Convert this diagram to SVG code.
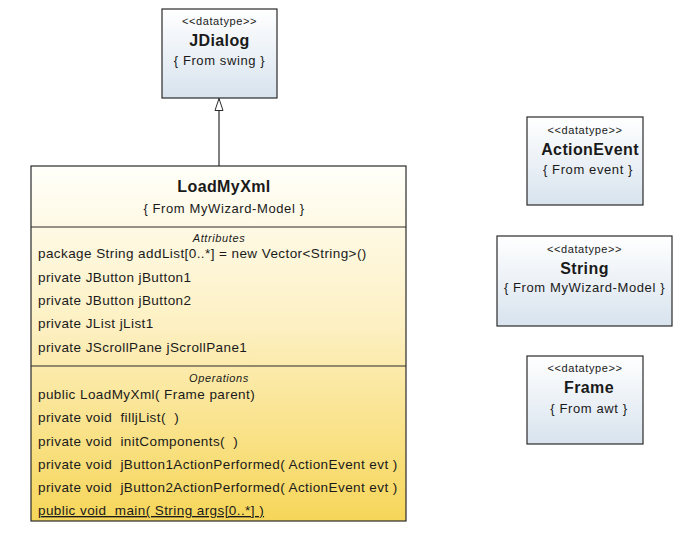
<svg xmlns="http://www.w3.org/2000/svg" width="683" height="536" viewBox="0 0 683 536">
<style>
text{font-family:"Liberation Sans",Arial,sans-serif;fill:#1a1a1a;white-space:pre}
.st{font-size:11px;letter-spacing:0.6px}
.tt{font-size:16px;font-weight:bold;letter-spacing:0.4px}
.fr{font-size:13px;letter-spacing:0.6px}
.m{font-size:13.5px;letter-spacing:0.42px}
.cap{font-size:11px;font-style:italic;letter-spacing:0.6px}
.bx{stroke:#2a2a2a;stroke-width:1.2}
.c{text-anchor:middle}
</style>
<defs>
<linearGradient id="gb" x1="0" y1="0" x2="0" y2="1">
<stop offset="0" stop-color="#ffffff"/>
<stop offset="1" stop-color="#d8e3ee"/>
</linearGradient>
<linearGradient id="gy" x1="0" y1="0" x2="0" y2="1">
<stop offset="0" stop-color="#fffffa"/>
<stop offset="0.45" stop-color="#fdf0c2"/>
<stop offset="1" stop-color="#f6d659"/>
</linearGradient>
<marker id="inh" viewBox="0 0 13 10" refX="12" refY="5" markerWidth="13" markerHeight="10" markerUnits="userSpaceOnUse" orient="auto">
<path d="M12,5 L0,1 L0,9 Z" fill="#fff" stroke="#2a2a2a" stroke-width="1"/>
</marker>
</defs>
<g id="connectors">
<line x1="219" y1="166" x2="219" y2="98.5" stroke="#2a2a2a" stroke-width="1.2" marker-end="url(#inh)"/>
</g>
<g id="JDialog">
<rect class="bx" x="162" y="9" width="115" height="89" fill="url(#gb)"/>
<text class="st c" x="219.5" y="25">&lt;&lt;datatype&gt;&gt;</text>
<text class="tt c" x="219.5" y="46">JDialog</text>
<text class="fr c" x="219.5" y="65">{ From swing }</text>
</g>
<g id="LoadMyXml">
<rect class="bx" x="31" y="166" width="375" height="355" fill="url(#gy)"/>
<line class="bx" x1="31" y1="227" x2="406" y2="227"/>
<line class="bx" x1="31" y1="366" x2="406" y2="366"/>
<text class="tt c" x="224" y="192">LoadMyXml</text>
<text class="fr c" x="224" y="213">{ From MyWizard-Model }</text>
<text class="cap c" x="219" y="242">Attributes</text>
<text class="m" x="38" y="258">package String addList[0..*] = new Vector&lt;String&gt;()</text>
<text class="m" x="38" y="282">private JButton jButton1</text>
<text class="m" x="38" y="305">private JButton jButton2</text>
<text class="m" x="38" y="328">private JList jList1</text>
<text class="m" x="38" y="352">private JScrollPane jScrollPane1</text>
<text class="cap c" x="219" y="382">Operations</text>
<text class="m" x="38" y="399">public LoadMyXml( Frame parent)</text>
<text class="m" x="38" y="422">private void&#160; filljList(&#160; )</text>
<text class="m" x="38" y="446">private void&#160; initComponents(&#160; )</text>
<text class="m" x="38" y="469">private void&#160; jButton1ActionPerformed( ActionEvent evt )</text>
<text class="m" x="38" y="492">private void&#160; jButton2ActionPerformed( ActionEvent evt )</text>
<text class="m" x="38" y="515" text-decoration="underline">public void&#160; main( String args[0..*] )</text>
</g>
<g id="ActionEvent">
<rect class="bx" x="527" y="117" width="116" height="88" fill="url(#gb)"/>
<text class="st c" x="585" y="134">&lt;&lt;datatype&gt;&gt;</text>
<text class="tt c" x="590" y="155">ActionEvent</text>
<text class="fr c" x="588" y="174">{ From event }</text>
</g>
<g id="String">
<rect class="bx" x="497" y="236" width="175" height="90" fill="url(#gb)"/>
<text class="st c" x="584.5" y="253">&lt;&lt;datatype&gt;&gt;</text>
<text class="tt c" x="584.5" y="274">String</text>
<text class="fr c" x="584.5" y="292">{ From MyWizard-Model }</text>
</g>
<g id="Frame">
<rect class="bx" x="527" y="356" width="116" height="88" fill="url(#gb)"/>
<text class="st c" x="585" y="372">&lt;&lt;datatype&gt;&gt;</text>
<text class="tt c" x="589" y="393">Frame</text>
<text class="fr c" x="589" y="413">{ From awt }</text>
</g>
</svg>
